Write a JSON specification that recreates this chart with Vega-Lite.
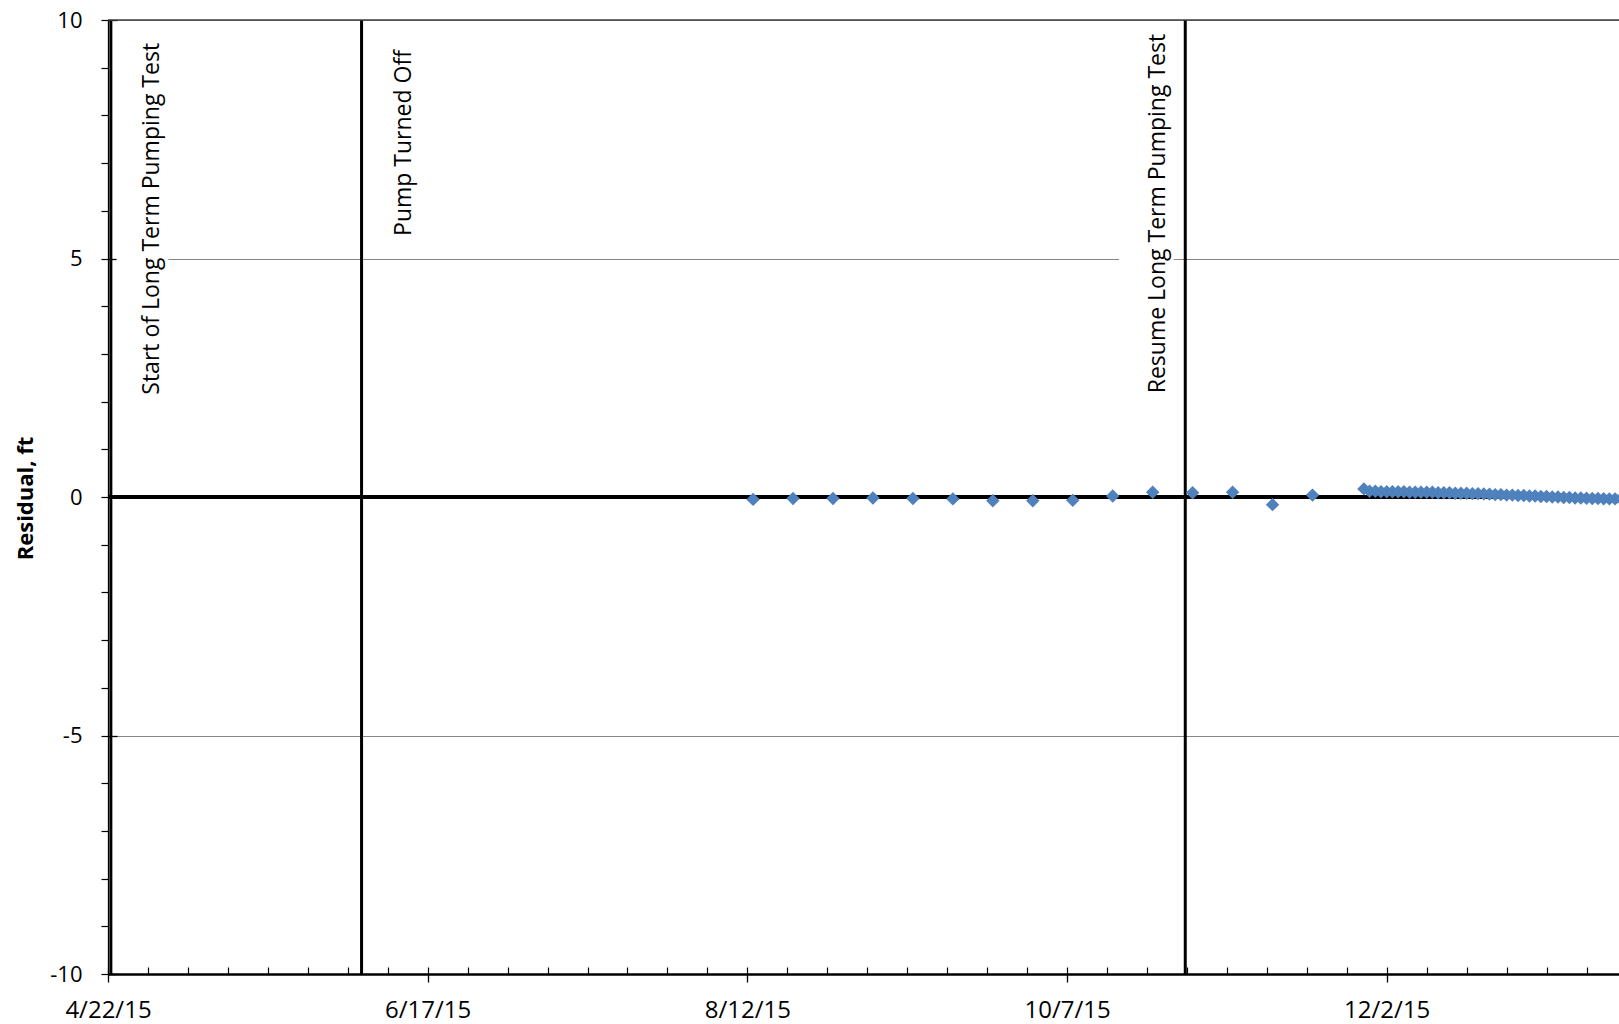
{
  "$schema": "https://vega.github.io/schema/vega-lite/v6.json",
  "autosize": {"type": "none"},
  "padding": {"left": 108, "top": 20, "right": 0, "bottom": 50},
  "width": 1511,
  "height": 954,
  "background": "white",
  "config": {"view": {"stroke": null}, "font": "Open Sans"},
  "datasets": {
    "points": [
      {"date": "2015-08-13T00:00:00", "residual": -0.05},
      {"date": "2015-08-20T00:00:00", "residual": -0.03},
      {"date": "2015-08-27T00:00:00", "residual": -0.03},
      {"date": "2015-09-03T00:00:00", "residual": -0.02},
      {"date": "2015-09-10T00:00:00", "residual": -0.03},
      {"date": "2015-09-17T00:00:00", "residual": -0.04},
      {"date": "2015-09-24T00:00:00", "residual": -0.08},
      {"date": "2015-10-01T00:00:00", "residual": -0.08},
      {"date": "2015-10-08T00:00:00", "residual": -0.07},
      {"date": "2015-10-15T00:00:00", "residual": 0.02},
      {"date": "2015-10-22T00:00:00", "residual": 0.10},
      {"date": "2015-10-29T00:00:00", "residual": 0.09},
      {"date": "2015-11-05T00:00:00", "residual": 0.10},
      {"date": "2015-11-12T00:00:00", "residual": -0.16},
      {"date": "2015-11-19T00:00:00", "residual": 0.04},
      {"date": "2015-11-28T00:00:00", "residual": 0.17},
      {"date": "2015-11-29T00:00:00", "residual": 0.12},
      {"date": "2015-11-30T00:00:00", "residual": 0.12},
      {"date": "2015-12-01T00:00:00", "residual": 0.11},
      {"date": "2015-12-02T00:00:00", "residual": 0.11},
      {"date": "2015-12-03T00:00:00", "residual": 0.11},
      {"date": "2015-12-04T00:00:00", "residual": 0.11},
      {"date": "2015-12-05T00:00:00", "residual": 0.11},
      {"date": "2015-12-06T00:00:00", "residual": 0.10},
      {"date": "2015-12-07T00:00:00", "residual": 0.10},
      {"date": "2015-12-08T00:00:00", "residual": 0.10},
      {"date": "2015-12-09T00:00:00", "residual": 0.10},
      {"date": "2015-12-10T00:00:00", "residual": 0.10},
      {"date": "2015-12-11T00:00:00", "residual": 0.09},
      {"date": "2015-12-12T00:00:00", "residual": 0.09},
      {"date": "2015-12-13T00:00:00", "residual": 0.09},
      {"date": "2015-12-14T00:00:00", "residual": 0.08},
      {"date": "2015-12-15T00:00:00", "residual": 0.08},
      {"date": "2015-12-16T00:00:00", "residual": 0.08},
      {"date": "2015-12-17T00:00:00", "residual": 0.07},
      {"date": "2015-12-18T00:00:00", "residual": 0.07},
      {"date": "2015-12-19T00:00:00", "residual": 0.065},
      {"date": "2015-12-20T00:00:00", "residual": 0.06},
      {"date": "2015-12-21T00:00:00", "residual": 0.05},
      {"date": "2015-12-22T00:00:00", "residual": 0.05},
      {"date": "2015-12-23T00:00:00", "residual": 0.04},
      {"date": "2015-12-24T00:00:00", "residual": 0.04},
      {"date": "2015-12-25T00:00:00", "residual": 0.03},
      {"date": "2015-12-26T00:00:00", "residual": 0.03},
      {"date": "2015-12-27T00:00:00", "residual": 0.02},
      {"date": "2015-12-28T00:00:00", "residual": 0.02},
      {"date": "2015-12-29T00:00:00", "residual": 0.01},
      {"date": "2015-12-30T00:00:00", "residual": 0.01},
      {"date": "2015-12-31T00:00:00", "residual": 0.0},
      {"date": "2016-01-01T00:00:00", "residual": 0.0},
      {"date": "2016-01-02T00:00:00", "residual": -0.01},
      {"date": "2016-01-03T00:00:00", "residual": -0.01},
      {"date": "2016-01-04T00:00:00", "residual": -0.02},
      {"date": "2016-01-05T00:00:00", "residual": -0.02},
      {"date": "2016-01-06T00:00:00", "residual": -0.025},
      {"date": "2016-01-07T00:00:00", "residual": -0.03},
      {"date": "2016-01-08T00:00:00", "residual": -0.03},
      {"date": "2016-01-09T00:00:00", "residual": -0.035},
      {"date": "2016-01-10T00:00:00", "residual": -0.04},
      {"date": "2016-01-11T00:00:00", "residual": -0.04},
      {"date": "2016-01-12T00:00:00", "residual": -0.04}
    ],
    "events": [
      {"lineDate": "2015-04-22T12:00:00", "textDate": "2015-04-29T19:00:00", "textTop": 9.52, "label": "Start of Long Term Pumping Test"},
      {"lineDate": "2015-06-05T10:00:00", "textDate": "2015-06-12T19:00:00", "textTop": 9.37, "label": "Pump Turned Off"},
      {"lineDate": "2015-10-27T17:00:00", "textDate": "2015-10-22T22:00:00", "textTop": 9.71, "label": "Resume Long Term Pumping Test"}
    ],
    "boxes": [
      {"start": "2015-04-23T12:00:00", "end": "2015-05-02T14:00:00", "low": 1.9, "high": 9.85},
      {"start": "2015-10-16T03:00:00", "end": "2015-10-25T17:00:00", "low": 1.9, "high": 9.85}
    ]
  },
  "resolve": {"axis": {"x": "independent", "y": "independent"}},
  "layer": [
    {
      "data": {"name": "boxes"},
      "mark": {"type": "rect", "fill": "white", "strokeWidth": 0},
      "encoding": {
        "x": {"field": "start", "type": "temporal", "axis": null, "scale": {"domain": [{"year": 2015, "month": 4, "date": 22}, {"year": 2016, "month": 1, "date": 11, "hours": 16, "minutes": 30}]}},
        "x2": {"field": "end"},
        "y": {"field": "low", "type": "quantitative", "axis": null, "scale": {"domain": [-10, 10], "nice": false, "zero": false}},
        "y2": {"field": "high"}
      }
    },
    {
      "data": {"name": "events"},
      "mark": {"type": "rule", "color": "black", "strokeWidth": 3},
      "encoding": {
        "x": {"field": "lineDate", "type": "temporal", "axis": null}
      }
    },
    {
      "data": {"values": [{}]},
      "mark": {"type": "rule", "color": "black", "strokeWidth": 4},
      "encoding": {
        "y": {"datum": 0, "type": "quantitative", "axis": null}
      }
    },
    {
      "data": {"values": [{}]},
      "mark": {"type": "rule", "color": "#404040", "strokeWidth": 1.3},
      "encoding": {
        "y": {"datum": 10, "type": "quantitative", "axis": null}
      }
    },
    {
      "data": {"name": "events"},
      "mark": {"type": "text", "angle": 270, "align": "right", "baseline": "middle", "font": "Open Sans", "fontSize": 23, "color": "black"},
      "encoding": {
        "x": {"field": "textDate", "type": "temporal", "axis": null},
        "y": {"field": "textTop", "type": "quantitative", "axis": null},
        "text": {"field": "label"}
      }
    },
    {
      "data": {"name": "points"},
      "mark": {"type": "point", "shape": "diamond", "filled": true, "color": "#4F81BD", "opacity": 1, "size": 180, "clip": true},
      "encoding": {
        "x": {
          "field": "date", "type": "temporal",
          "scale": {"domain": [{"year": 2015, "month": 4, "date": 22}, {"year": 2016, "month": 1, "date": 11, "hours": 16, "minutes": 30}]},
          "axis": {
            "orient": "bottom", "title": null, "format": "%-m/%-d/%y", "grid": false,
            "values": [
              {"year": 2015, "month": 4, "date": 22},
              {"year": 2015, "month": 6, "date": 17},
              {"year": 2015, "month": 8, "date": 12},
              {"year": 2015, "month": 10, "date": 7},
              {"year": 2015, "month": 12, "date": 2}
            ],
            "domainColor": "black", "domainWidth": 2.5,
            "tickColor": "black", "tickWidth": 1.3, "tickSize": 8,
            "labelFont": "Open Sans", "labelFontSize": 24, "labelColor": "black", "labelPadding": 16,
            "labelFlush": false, "labelOverlap": false
          }
        },
        "y": {
          "field": "residual", "type": "quantitative",
          "scale": {"domain": [-10, 10], "nice": false, "zero": false},
          "axis": {
            "orient": "left", "title": "Residual, ft",
            "titleFont": "Open Sans", "titleFontSize": 22, "titleFontWeight": "bold", "titleColor": "black",
            "titleX": -83, "titleY": 478, "titleAngle": 270, "titleAlign": "center", "titleBaseline": "middle",
            "values": [-10, -9, -8, -7, -6, -5, -4, -3, -2, -1, 0, 1, 2, 3, 4, 5, 6, 7, 8, 9, 10],
            "labelExpr": "datum.value % 5 === 0 ? '' + datum.value : ''",
            "grid": false,
            "domainColor": "black", "domainWidth": 1.3,
            "tickColor": "black", "tickWidth": 1.2, "tickSize": 7,
            "labelFont": "Open Sans", "labelFontSize": 22, "labelColor": "black", "labelPadding": 19,
            "labelOverlap": false, "labelFlush": false
          }
        }
      }
    },
    {
      "data": {"name": "points"},
      "mark": {"type": "point", "opacity": 0},
      "encoding": {
        "x": {
          "field": "date", "type": "temporal",
          "axis": {
            "orient": "bottom", "title": null, "labels": false, "domain": false, "grid": false,
            "values": [
              {"year": 2015, "month": 4, "date": 22}, {"year": 2015, "month": 4, "date": 29},
              {"year": 2015, "month": 5, "date": 6}, {"year": 2015, "month": 5, "date": 13},
              {"year": 2015, "month": 5, "date": 20}, {"year": 2015, "month": 5, "date": 27},
              {"year": 2015, "month": 6, "date": 3}, {"year": 2015, "month": 6, "date": 10},
              {"year": 2015, "month": 6, "date": 17}, {"year": 2015, "month": 6, "date": 24},
              {"year": 2015, "month": 7, "date": 1}, {"year": 2015, "month": 7, "date": 8},
              {"year": 2015, "month": 7, "date": 15}, {"year": 2015, "month": 7, "date": 22},
              {"year": 2015, "month": 7, "date": 29}, {"year": 2015, "month": 8, "date": 5},
              {"year": 2015, "month": 8, "date": 12}, {"year": 2015, "month": 8, "date": 19},
              {"year": 2015, "month": 8, "date": 26}, {"year": 2015, "month": 9, "date": 2},
              {"year": 2015, "month": 9, "date": 9}, {"year": 2015, "month": 9, "date": 16},
              {"year": 2015, "month": 9, "date": 23}, {"year": 2015, "month": 9, "date": 30},
              {"year": 2015, "month": 10, "date": 7}, {"year": 2015, "month": 10, "date": 14},
              {"year": 2015, "month": 10, "date": 21}, {"year": 2015, "month": 10, "date": 28},
              {"year": 2015, "month": 11, "date": 4}, {"year": 2015, "month": 11, "date": 11},
              {"year": 2015, "month": 11, "date": 18}, {"year": 2015, "month": 11, "date": 25},
              {"year": 2015, "month": 12, "date": 2}, {"year": 2015, "month": 12, "date": 9},
              {"year": 2015, "month": 12, "date": 16}, {"year": 2015, "month": 12, "date": 23},
              {"year": 2015, "month": 12, "date": 30}, {"year": 2016, "month": 1, "date": 6}
            ],
            "tickColor": "black", "tickWidth": 1.2, "tickSize": -7
          }
        },
        "y": {
          "field": "residual", "type": "quantitative",
          "axis": {
            "orient": "left", "title": null, "labels": false, "domain": false,
            "values": [-10, -5, 0, 5, 10],
            "grid": true, "gridColor": "#868686", "gridWidth": 1.2,
            "tickColor": "black", "tickWidth": 1.3, "tickSize": -9
          }
        }
      }
    }
  ]
}
